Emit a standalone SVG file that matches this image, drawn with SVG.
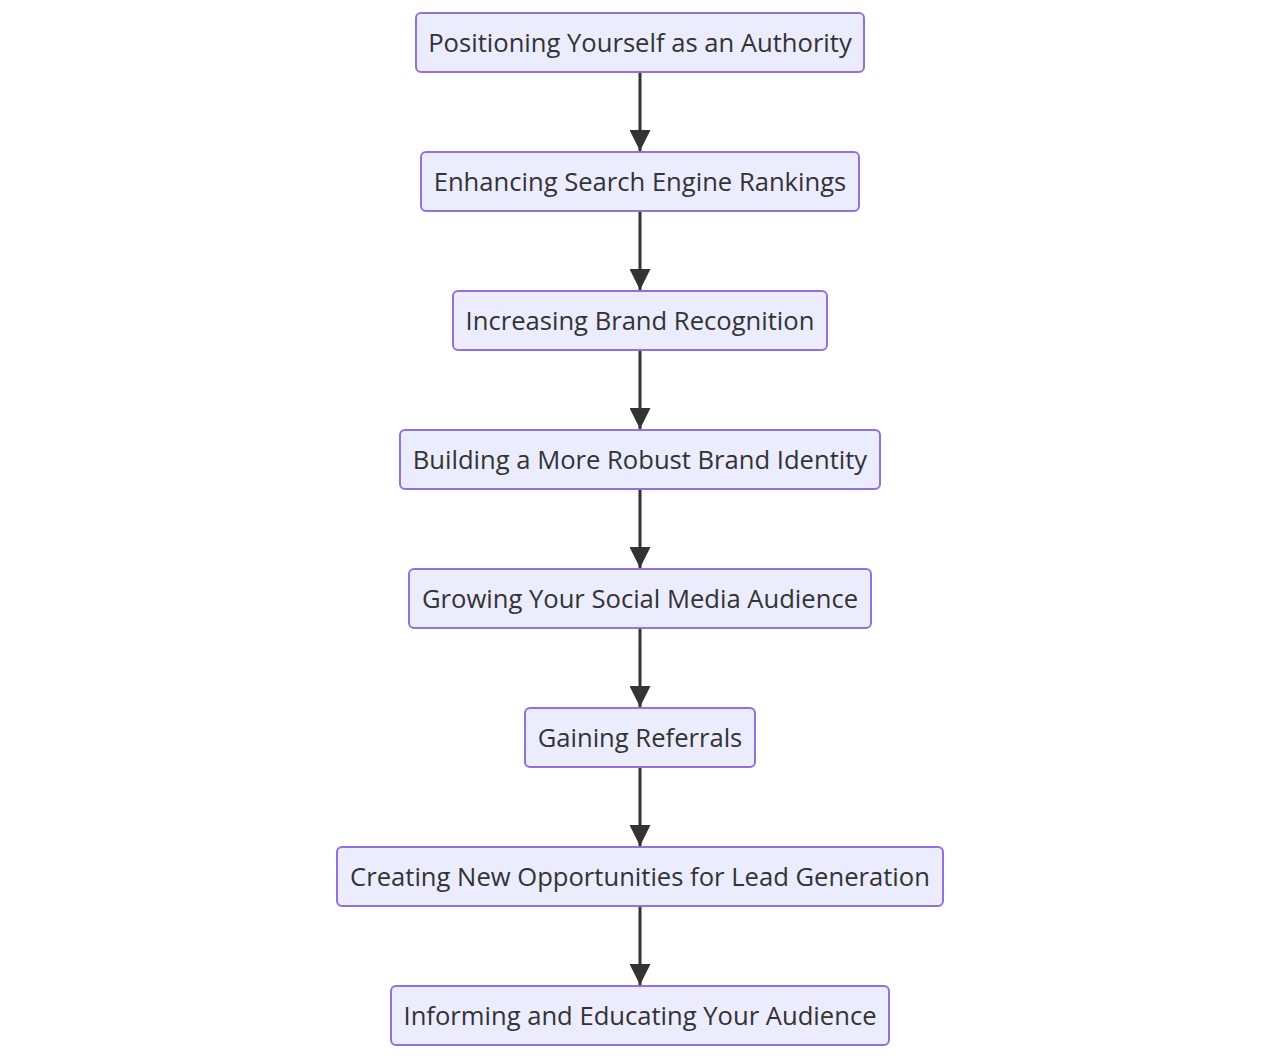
<svg xmlns="http://www.w3.org/2000/svg" width="1280" height="1059" viewBox="0 0 1280 1059">
<defs>
<style>
.node rect{fill:#ECECFF;stroke:#9370DB;stroke-width:2;}
.node text{font-family:"Open Sans",sans-serif;font-size:25.6px;fill:#333;text-anchor:middle;dominant-baseline:central;}
.edge{stroke:#333;stroke-width:3;fill:none;}
</style>
<marker id="arrow" viewBox="0 0 10 10" refX="10" refY="5" markerWidth="7" markerHeight="7" markerUnits="strokeWidth" orient="auto">
<path d="M0,0L10,5L0,10z" fill="#333"/>
</marker>
</defs>
<rect width="1280" height="1059" fill="#fff"/>
<g id="edges">
<line class="edge" x1="640" y1="72" x2="640" y2="151" marker-end="url(#arrow)"/>
<line class="edge" x1="640" y1="211" x2="640" y2="290" marker-end="url(#arrow)"/>
<line class="edge" x1="640" y1="350" x2="640" y2="429" marker-end="url(#arrow)"/>
<line class="edge" x1="640" y1="489" x2="640" y2="568" marker-end="url(#arrow)"/>
<line class="edge" x1="640" y1="628" x2="640" y2="707" marker-end="url(#arrow)"/>
<line class="edge" x1="640" y1="767" x2="640" y2="846" marker-end="url(#arrow)"/>
<line class="edge" x1="640" y1="906" x2="640" y2="985" marker-end="url(#arrow)"/>
</g>
<g id="n1" class="node"><rect x="416" y="13" width="448" height="59" rx="5"/><text x="640" y="42">Positioning Yourself as an Authority</text></g>
<g id="n2" class="node"><rect x="421" y="152" width="438" height="59" rx="5"/><text x="640" y="181">Enhancing Search Engine Rankings</text></g>
<g id="n3" class="node"><rect x="453" y="291" width="374" height="59" rx="5"/><text x="640" y="320">Increasing Brand Recognition</text></g>
<g id="n4" class="node"><rect x="400" y="430" width="480" height="59" rx="5"/><text x="640" y="459">Building a More Robust Brand Identity</text></g>
<g id="n5" class="node"><rect x="409" y="569" width="462" height="59" rx="5"/><text x="640" y="598">Growing Your Social Media Audience</text></g>
<g id="n6" class="node"><rect x="525" y="708" width="230" height="59" rx="5"/><text x="640" y="737">Gaining Referrals</text></g>
<g id="n7" class="node"><rect x="337" y="847" width="606" height="59" rx="5"/><text x="640" y="876">Creating New Opportunities for Lead Generation</text></g>
<g id="n8" class="node"><rect x="391" y="986" width="498" height="59" rx="5"/><text x="640" y="1015">Informing and Educating Your Audience</text></g>
</svg>
